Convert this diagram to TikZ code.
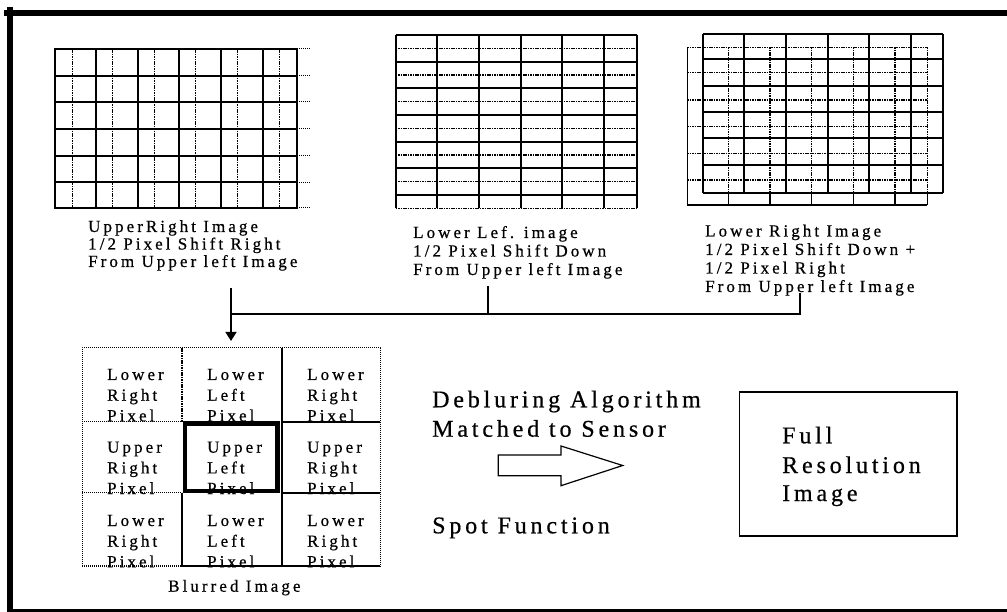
\documentclass[tikz,border=0pt]{standalone}
\usepackage{fontspec}
\setmainfont{Liberation Serif}
\newfontfamily\labfont{Liberation Serif}[LetterSpace=18,FakeBold=0.6]
\newfontfamily\bigfont{Liberation Serif}[LetterSpace=16,FakeBold=0.6]
\usetikzlibrary{arrows.meta}
\begin{document}
\begin{tikzpicture}[x=1pt,y=-1pt,
  lab/.style={anchor=base west, inner sep=0pt, font=\labfont\fontsize{17}{18}\selectfont},
  big/.style={anchor=base west, inner sep=0pt, font=\bigfont\fontsize{24}{29}\selectfont},
  gs/.style={line width=1.8pt},
  gd/.style={line width=1.4pt, dash pattern=on 1.6pt off 0.8pt},
  thin dot/.style={line width=1pt, dash pattern=on 1.2pt off 0.8pt},
  conn/.style={line width=1.4pt},
  frame/.style={line cap=rect}]
\useasboundingbox (0,0) rectangle (1007,612);
% outer frame
\draw[frame, line width=6pt] (10.3,10) -- (10.3,612);
\draw[frame, line width=5.7pt] (7.3,13) -- (1007,13);
\draw[line width=3pt] (7.3,610) -- (1007,610);

% ---------- grid 1 : upper right image ----------
\foreach \x in {72.3,112.7,154.3,195.7,237.7,279.3} \draw[gd] (\x,49) -- (\x,208);
\foreach \y in {49,75.7,101.7,129,155.7,182.3,208} \draw[thin dot] (297,\y) -- (310,\y);
\foreach \x in {96.3,137.7,179.3,221.3,262.7} \draw[gs] (\x,49) -- (\x,208);
\foreach \y in {75.7,101.7,129,155.7,182.3} \draw[gs] (55,\y) -- (297,\y);
\draw[gs] (55,49) rectangle (297,208);

% ---------- grid 2 : lower left image ----------
\foreach \y in {48.3,75,101.7,128.3,155,181.7,208.3} \draw[gd] (395.7,\y) -- (637,\y);
\foreach \y in {35,61.7,88.3,115,141.7,168.3,195} \draw[gs] (395.7,\y) -- (637,\y);
\foreach \x in {395.7,437.3,479,520.7,562.3,604,637} \draw[gs] (\x,35) -- (\x,208.3);

% ---------- grid 3 : lower right image ----------
\foreach \x in {728.3,770,811.7,853.3,895,927.3} \draw[gd] (\x,47.3) -- (\x,192.7);
\foreach \x in {728.3,770,811.7,853.3,895,927.3} \draw[line width=1.3pt] (\x,192.7) -- (\x,205);
\foreach \y in {47.3,72.7,100,126.7,153.3,180} \draw[gd] (687.3,\y) -- (927.3,\y);
\draw[line width=1.3pt] (687.3,47.3) -- (687.3,205) -- (927.3,205);
\foreach \x in {703.3,744.3,785.7,827.7,869.3,910.7,943.3} \draw[gs] (\x,34) -- (\x,192.7);
\foreach \y in {34,59.3,86,111.7,138.3,165,192.7} \draw[gs] (703.3,\y) -- (943.3,\y);

% ---------- labels ----------
\node[lab] (ur1) at (88,232) {UpperRight Image};
\node[lab] (ur2) at (88,249.5) {1/2 Pixel Shift Right};
\node[lab] (ur3) at (88,267) {From Upper left Image};
\node[lab] (ll1) at (413,238) {Lower Lef. image};
\node[lab] (ll2) at (413,256.5) {1/2 Pixel Shift Down};
\node[lab] (ll3) at (413,275) {From Upper left Image};
\node[lab] (lr1) at (705,236.5) {Lower Right Image};
\node[lab] (lr2) at (705,255) {1/2 Pixel Shift Down +};
\node[lab] (lr3) at (705,273.5) {1/2 Pixel Right};
\node[lab] (lr4) at (705,292) {From Upper left Image};

% ---------- connectors ----------
\coordinate (a1) at (231,288);
\coordinate (a2) at (488,286);
\coordinate (a3) at (800,293);
\coordinate (j1) at (231,314);
\coordinate (j2) at (488,314);
\coordinate (j3) at (800,314);
\coordinate (bt) at (231,341);
\draw[conn] (a2) -- (j2);
\draw[conn] (a3) -- (j3) -- (j1);
\draw[conn, -{Triangle[width=11pt,length=9pt]}] (a1) -- (bt);

% ---------- blurred image grid ----------
\foreach \cx/\by/\a/\b [count=\i] in {107/380/Lower/Right, 207/380/Lower/Left, 307/380/Lower/Right,
   107/452.7/Upper/Right, 207/452.7/Upper/Left, 307/452.7/Upper/Right,
   107/526/Lower/Right, 207/526/Lower/Left, 307/526/Lower/Right}{
  \node[lab] (c\i a) at (\cx,\by) {\a};
  \node[lab] (c\i b) at (\cx,\by+20.7) {\b};
  \node[lab] (c\i c) at (\cx,\by+41.3) {Pixel};
}
\draw[thin dot] (82,566) -- (82,348) -- (380,348) -- (380,421.7);
\draw[thin dot] (380,421.7) -- (380,566);
\draw[thin dot, line width=1.3pt] (82,421.7) -- (182,421.7);
\draw[thin dot, line width=1.3pt] (82,492.7) -- (182,492.7);
\draw[thin dot, line width=1.3pt] (82,566) -- (182,566);
\draw[gd] (182,348) -- (182,421.7);
\draw[line width=1.4pt] (182,492.7) -- (182,566) -- (380,566);
\draw[line width=1.6pt] (282,348) -- (282,566);
\draw[line width=1.6pt] (282,421.7) -- (380,421.7);
\draw[line width=1.6pt] (282,492.7) -- (380,492.7);
\draw[line width=4.5pt] (185,423.7) rectangle (277.3,491);
\node[lab] (blur) at (168,591.7) {Blurred Image};

% ---------- deblurring ----------
\node[big] (d1) at (432,407.3) {Debluring Algorithm};
\node[big] (d2) at (432,436.7) {Matched to Sensor};
\node[big] (d3) at (432,533.3) {Spot Function};
\draw[line width=1.2pt, line join=miter] (498.3,455) -- (561,455) -- (561,446) -- (622.7,465.5)
   -- (561,485.7) -- (561,475.7) -- (498.3,475.7) -- cycle;

% ---------- full resolution box ----------
\draw[line width=1.6pt] (739.3,391.7) rectangle (957,536);
\node[big] (f1) at (782,443.3) {Full};
\node[big] (f2) at (782,473) {Resolution};
\node[big] (f3) at (782,501) {Image};
\end{tikzpicture}
\end{document}
